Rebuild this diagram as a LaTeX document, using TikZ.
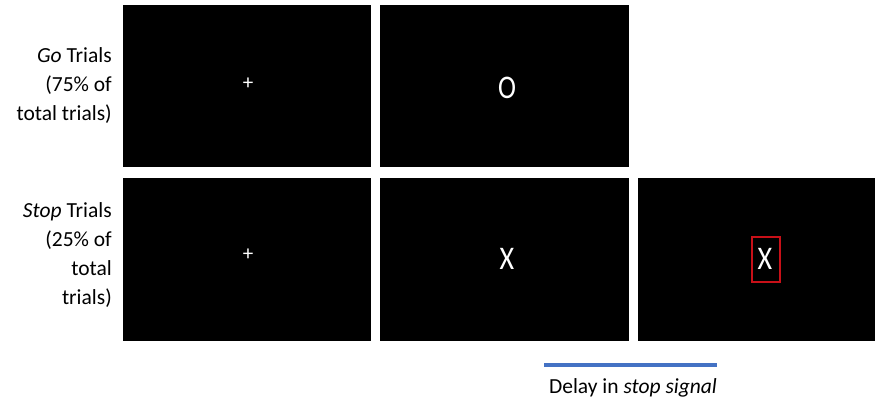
\documentclass[tikz,border=0pt]{standalone}
\usepackage{fontspec}
\setmainfont{Carlito}
\definecolor{boxred}{RGB}{200,16,24}
\definecolor{delayblue}{RGB}{68,114,196}
\begin{document}
\begin{tikzpicture}[x=1pt,y=-1pt,
  panel/.style={fill=black,draw=none},
  lbl/.style={align=right,anchor=east,inner sep=0pt,font=\fontsize{21.5}{29}\selectfont},
  stim/.style={text=white,inner sep=0pt,font=\fontsize{33}{33}\selectfont},
  fix/.style={text=white,inner sep=0pt,font=\fontsize{21}{21}\selectfont}]
\useasboundingbox (0,0) rectangle (875,400);
\fill[white] (0,0) rectangle (875,400);
% panels
\path[panel] (122.5,5) rectangle (371,167) node[pos=0.5] (g1) {};
\path[panel] (380,5) rectangle (628.5,167) node[pos=0.5] (g2) {};
\path[panel] (122.5,177.5) rectangle (371,340.5) node[pos=0.5] (s1) {};
\path[panel] (380,177.5) rectangle (628.5,340.5) node[pos=0.5] (s2) {};
\path[panel] (638,177.5) rectangle (875,340.5) node[pos=0.5] (s3) {};
% stimuli
\node[fix] (gp) at (248,84) {+};
\node[stim] (go) at (507,88) {\scalebox{0.82}[1]{O}};
\node[fix] (sp) at (248,255) {+};
\node[stim] (sx) at (507,259) {\scalebox{0.85}[1]{X}};
\node[stim] (sx2) at (765,259) {\scalebox{0.85}[1]{X}};
\coordinate (rb1) at (751.5,236.5);
\coordinate (rb2) at (779.5,281.5);
\draw[draw=boxred,line width=2pt] (rb1) rectangle (rb2);
% labels
\node[lbl] (golbl) at (112,86) {\textit{Go} Trials\\(75\% of\\total trials)};
\node[lbl] (stoplbl) at (112,255) {\textit{Stop} Trials\\(25\% of\\total\\trials)};
% delay
\coordinate (d1) at (544,365);
\coordinate (d2) at (717,365);
\draw[draw=delayblue,line width=4pt] (d1) -- (d2);
\node[inner sep=0pt,anchor=base,font=\fontsize{21.5}{24}\selectfont] (delay) at (633,393) {Delay in \textit{stop signal}};
\end{tikzpicture}
\end{document}
